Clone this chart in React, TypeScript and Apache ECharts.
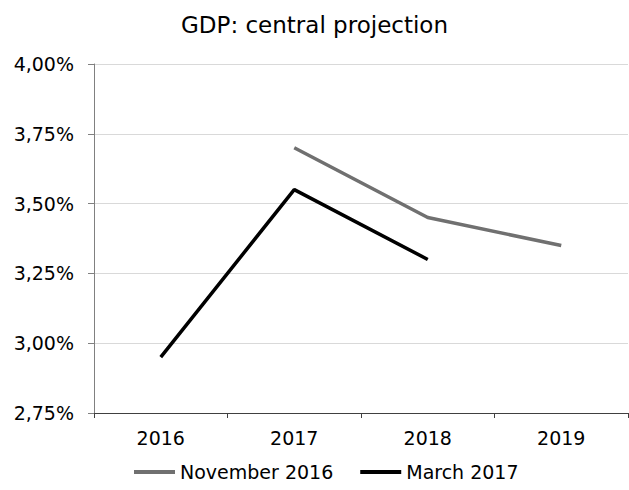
import React, { useEffect, useRef } from "react";
import * as echarts from "echarts";

const categories = ["2016", "2017", "2018", "2019"];
const november2016 = [null, 3.7, 3.45, 3.35];
const march2017 = [2.95, 3.55, 3.3, null];

const FONT = "DejaVu Sans, Verdana, sans-serif";

export default function App() {
  const ref = useRef<HTMLDivElement>(null);
  useEffect(() => {
    if (!ref.current) return;
    const chart = echarts.init(ref.current, null, { renderer: "svg" });
    chart.setOption({
      animation: false,
      backgroundColor: "#ffffff",
      title: {
        text: "GDP: central projection",
        left: "center",
        top: 8,
        textStyle: { fontFamily: FONT, fontSize: 23, fontWeight: "normal", color: "#000" },
      },
      grid: { left: 94, right: 1, top: 64, bottom: 77, containLabel: false },
      legend: {
        top: 462,
        left: 134,
        padding: 0,
        itemWidth: 41,
        itemHeight: 4,
        itemGap: 27,
        icon: "rect",
        textStyle: { fontFamily: FONT, fontSize: 19, lineHeight: 20, color: "#000" },
        data: ["November 2016", "March 2017"],
      },
      xAxis: {
        type: "category",
        data: categories,
        boundaryGap: true,
        axisLine: { lineStyle: { color: "#404040", width: 1 } },
        axisTick: { show: true, length: 5, lineStyle: { color: "#404040" } },
        axisLabel: { fontFamily: FONT, fontSize: 19, color: "#000", margin: 15 },
      },
      yAxis: {
        type: "value",
        min: 2.75,
        max: 4,
        interval: 0.25,
        axisLine: { show: true, lineStyle: { color: "#808080" } },
        axisTick: { show: true, length: 6, lineStyle: { color: "#808080" } },
        splitLine: { lineStyle: { color: "#d9d9d9" } },
        axisLabel: {
          fontFamily: FONT,
          fontSize: 19,
          color: "#000",
          margin: 20,
          formatter: (v: number) => v.toFixed(2).replace(".", ",") + "%",
        },
      },
      series: [
        {
          name: "November 2016",
          type: "line",
          data: november2016,
          symbol: "none",
          color: "#707070",
          lineStyle: { color: "#707070", width: 3.5 },
        },
        {
          name: "March 2017",
          type: "line",
          data: march2017,
          symbol: "none",
          color: "#000000",
          lineStyle: { color: "#000000", width: 3.5 },
        },
      ],
    });
    return () => chart.dispose();
  }, []);
  return <div ref={ref} style={{ width: 629, height: 490, position: "absolute", left: 0, top: 0 }} />;
}
